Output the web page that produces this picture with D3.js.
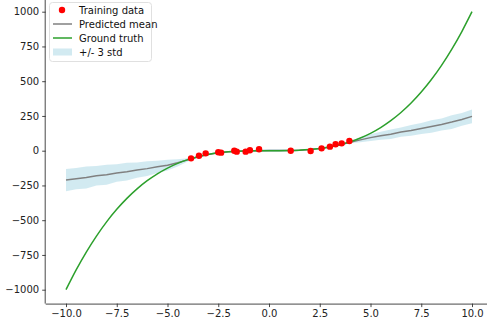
<!DOCTYPE html>
<html>
<head>
<meta charset="utf-8">
<script src="https://cdn.jsdelivr.net/npm/d3@7"></script>
<style>
  body { margin: 0; background: #fff; }
  svg text { font-family: "DejaVu Sans", sans-serif; }
</style>
</head>
<body>
<div id="chart"></div>
<script>
// grid the model was evaluated on
var xGrid = [-10, -9.5, -9, -8.5, -8, -7.5, -7, -6.5, -6, -5.5, -5, -4.5, -4, -3.5, -3, -2.5, -2, -1.5, -1, -0.5,
  0, 0.5, 1, 1.5, 2, 2.5, 3, 3.5, 4, 4.5, 5, 5.5, 6, 6.5, 7, 7.5, 8, 8.5, 9, 9.5, 10]
var predMean = [-211, -201, -193, -180, -173, -160, -151, -139, -129, -116, -104, -87, -66, -44, -27, -15, -8, -4, -2, 0,
  1, 1, 1, 3, 8, 15, 27, 43, 61, 78, 94, 107, 119, 134, 146, 160, 174, 189, 206, 225, 247]
var stdBand = [80, 76, 79, 70, 72, 63, 64, 55, 53, 44, 38, 26, 11, 6, 5, 4, 4, 4, 5, 7,
  9, 9, 6, 6, 5, 4, 4, 5, 8, 17, 25, 29, 34, 33, 39, 40, 45, 43, 49, 46, 50]
var groundTruth = [-1000, -857.4, -729, -614.1, -512, -421.9, -343, -274.6, -216, -166.4, -125, -91.1, -64, -42.9, -27, -15.6, -8, -3.4, -1, -0.1,
  0, 0.1, 1, 3.4, 8, 15.6, 27, 42.9, 64, 91.1, 125, 166.4, 216, 274.6, 343, 421.9, 512, 614.1, 729, 857.4, 1000]

// training points
var trainX = [-3.84, -3.45, -3.12, -2.50, -2.36, -1.71, -1.59, -1.15, -0.94, -0.49, 1.07, 2.05, 2.59, 3.00, 3.28, 3.58, 3.96]
var trainY = [-55, -36, -19, -11, -14, 0, -7, -7, 3, 10, 0, -2, 17, 29, 46, 53, 70]

var xTicks = [-10, -7.5, -5, -2.5, 0, 2.5, 5, 7.5, 10]
var yTicks = [-1000, -750, -500, -250, 0, 250, 500, 750, 1000]

var width = 487, height = 321

var svg = d3.select("#chart")
  .append("svg")
  .attr("width", width)
  .attr("height", height)

var xScale = d3.scaleLinear().domain([-11, 11]).range([45.7, 492.3])
var yScale = d3.scaleLinear().domain([-1100, 1100]).range([303.6, -2.2])

var grid = xGrid.map((x, i) => ({ x: x, m: predMean[i], s: stdBand[i], g: groundTruth[i] }))

// +/- 3 std band
var area = d3.area()
  .x(d => xScale(d.x))
  .y0(d => yScale(d.m - d.s))
  .y1(d => yScale(d.m + d.s))
svg.append("path")
  .datum(grid)
  .attr("d", area)
  .attr("fill", "#add8e6")
  .attr("fill-opacity", 0.55)

// predicted mean
svg.append("path")
  .datum(grid)
  .attr("d", d3.line().x(d => xScale(d.x)).y(d => yScale(d.m)))
  .attr("fill", "none")
  .attr("stroke", "#808080")
  .attr("stroke-width", 1.5)

// ground truth
svg.append("path")
  .datum(grid)
  .attr("d", d3.line().curve(d3.curveCatmullRom).x(d => xScale(d.x)).y(d => yScale(d.g)))
  .attr("fill", "none")
  .attr("stroke", "#2ca02c")
  .attr("stroke-width", 1.5)

// training data
svg.selectAll("circle.train")
  .data(trainX)
  .enter()
  .append("circle")
  .attr("class", "train")
  .attr("cx", d => xScale(d))
  .attr("cy", (d, i) => yScale(trainY[i]))
  .attr("r", 3.2)
  .attr("fill", "#ff0000")

var fmt = d => String(d).replace("-", "\u2212")

// axes
svg.append("g")
  .attr("transform", `translate(0, ${yScale(-1100)})`)
  .call(d3.axisBottom(xScale).tickValues(xTicks).tickSize(3.5).tickPadding(3).tickFormat(d => fmt(d.toFixed(1))))
  .call(g => g.select(".domain").attr("d", `M${xScale(-11)},0.5H${xScale(11)}`))
  .selectAll("text")
  .attr("font-size", "10px")
  .attr("fill", "#222")

svg.append("g")
  .attr("transform", `translate(${xScale(-11)}, 0)`)
  .call(d3.axisLeft(yScale).tickValues(yTicks).tickSize(3.5).tickPadding(3).tickFormat(fmt))
  .call(g => g.select(".domain").attr("d", `M-0.5,${yScale(-1100)}V${yScale(1100)}`))
  .selectAll("text")
  .attr("font-size", "10px")
  .attr("fill", "#222")

svg.selectAll(".domain, .tick line").attr("stroke", "#333").attr("stroke-width", 0.9)

// legend
var legend = svg.append("g")
legend.append("rect")
  .attr("x", 49.5).attr("y", 2.5)
  .attr("width", 102).attr("height", 59)
  .attr("rx", 3)
  .attr("fill", "#fff").attr("fill-opacity", 0.85)
  .attr("stroke", "#e0e0e0")

var labels = ["Training data", "Predicted mean", "Ground truth", "+/- 3 std"]
labels.forEach((t, i) => {
  var y = 10 + i * 14
  if (i === 0) {
    legend.append("circle").attr("cx", 62).attr("cy", y).attr("r", 3.2).attr("fill", "#ff0000")
  } else if (i === 3) {
    legend.append("rect").attr("x", 53).attr("y", y - 3.5).attr("width", 19).attr("height", 7)
      .attr("fill", "#add8e6").attr("fill-opacity", 0.55)
  } else {
    legend.append("line").attr("x1", 53).attr("x2", 72).attr("y1", y).attr("y2", y)
      .attr("stroke", i === 1 ? "#808080" : "#2ca02c").attr("stroke-width", 1.5)
  }
  legend.append("text")
    .attr("x", 79).attr("y", y + 3.6)
    .attr("font-size", "10px")
    .attr("fill", "#111")
    .text(t)
})
</script>
</body>
</html>
